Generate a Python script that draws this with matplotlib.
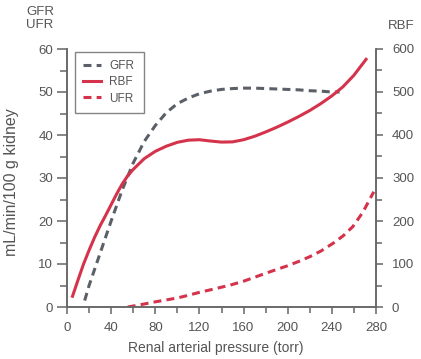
import matplotlib
matplotlib.use('Agg')
import matplotlib.pyplot as plt
from matplotlib.ticker import MultipleLocator

plt.rcParams['font.family'] = ['Liberation Sans', 'DejaVu Sans']

red = '#d4334b'
gray = '#5b6068'
txt = '#555555'

# GFR (mL/min/100 g), left axis
gfr_x = [16, 20, 30, 40, 50, 60, 70, 80, 90, 100, 110, 120, 130, 140, 150,
         160, 170, 180, 190, 200, 210, 220, 230, 240, 247]
gfr_y = [1.5, 5.0, 12.5, 20.0, 27.2, 33.5, 38.5, 42.2, 45.2, 47.3, 48.6, 49.6,
         50.2, 50.6, 50.8, 50.9, 50.9, 50.8, 50.7, 50.6, 50.5, 50.3, 50.2, 50.0, 50.0]

# RBF (mL/min/100 g), right axis
rbf_x = [5, 10, 15, 20, 25, 30, 35, 40, 45, 50, 55, 60, 70, 80, 90, 100, 110,
         120, 130, 140, 150, 160, 170, 180, 190, 200, 210, 220, 230, 240, 250,
         260, 271]
rbf_y = [25, 63, 100, 132, 162, 189, 213, 238, 263, 286, 305, 320, 345, 362,
         374, 383, 388, 389, 386, 383.5, 384, 389, 397, 407, 418, 430, 443, 457,
         473, 491, 512, 539, 576]

# UFR, left axis
ufr_x = [55, 66, 80, 100, 108, 120, 135, 148, 160, 172, 184, 200, 210, 220,
         230, 241, 250, 259, 268, 278]
ufr_y = [0, 0.5, 1.2, 2.1, 2.6, 3.4, 4.3, 5.1, 6.0, 7.1, 8.2, 9.6, 10.6, 11.7,
         13.0, 14.8, 16.5, 18.7, 22.0, 26.8]

fig = plt.figure(figsize=(4.21, 3.59), dpi=100)
ax = fig.add_axes([67/421, 52/359, 309/421, 258/359])
ax2 = ax.twinx()

lw = 2.2
l1, = ax.plot(gfr_x, gfr_y, color=gray, lw=lw, ls=(0, (2.6, 1.7)), label='GFR')
l2, = ax2.plot(rbf_x, rbf_y, color=red, lw=lw, label='RBF')
l3, = ax.plot(ufr_x, ufr_y, color=red, lw=lw, ls=(0, (2.6, 1.7)), label='UFR')

ax.set_xlim(0, 280)
ax.set_ylim(0, 60)
ax2.set_ylim(0, 600)

ax.xaxis.set_major_locator(MultipleLocator(40))
ax.xaxis.set_minor_locator(MultipleLocator(20))
ax.yaxis.set_major_locator(MultipleLocator(10))
ax.yaxis.set_minor_locator(MultipleLocator(5))
ax2.yaxis.set_major_locator(MultipleLocator(100))
ax2.yaxis.set_minor_locator(MultipleLocator(50))

for a in (ax, ax2):
    a.spines['top'].set_visible(False)
    for s in a.spines.values():
        s.set_color('#666666')
        s.set_linewidth(1.1)
    a.tick_params(which='both', direction='out', color='#666666', width=1.1,
                  labelcolor=txt, labelsize=9.5)

ax.tick_params(axis='y', which='major', length=7, pad=3)
ax.tick_params(axis='y', which='minor', length=5)
ax.tick_params(axis='x', which='major', length=5, pad=6)
ax.tick_params(axis='x', which='minor', length=4.5)
ax2.tick_params(axis='y', which='major', length=5, pad=6.5)
ax2.tick_params(axis='y', which='minor', length=4.5)

fig.text(216/421, 1 - 348/359, 'Renal arterial pressure (torr)', color=txt,
         fontsize=10, ha='center', va='center')
fig.text(12/421, 1 - 182.5/359, 'mL/min/100 g kidney', color=txt,
         fontsize=11.5, ha='center', va='center', rotation=90)

fig.text(40/421, 1 - 18.5/359, 'GFR\nUFR', color=txt, fontsize=9.5,
         ha='center', va='center', linespacing=1.15)
fig.text(401/421, 1 - 26/359, 'RBF', color=txt, fontsize=9.5,
         ha='center', va='center')

leg = ax.legend(handles=[l1, l2, l3], loc='upper left',
                bbox_to_anchor=(8/309, 0, 69/309, 255/258), mode='expand',
                borderaxespad=0, fontsize=8.5, frameon=True, fancybox=False,
                handlelength=1.5, borderpad=0.7, labelspacing=0.35,
                handletextpad=0.7)
leg.get_frame().set_edgecolor('#666666')
leg.get_frame().set_linewidth(1.0)
for t in leg.get_texts():
    t.set_color(txt)

fig.savefig('out.png', dpi=100)
